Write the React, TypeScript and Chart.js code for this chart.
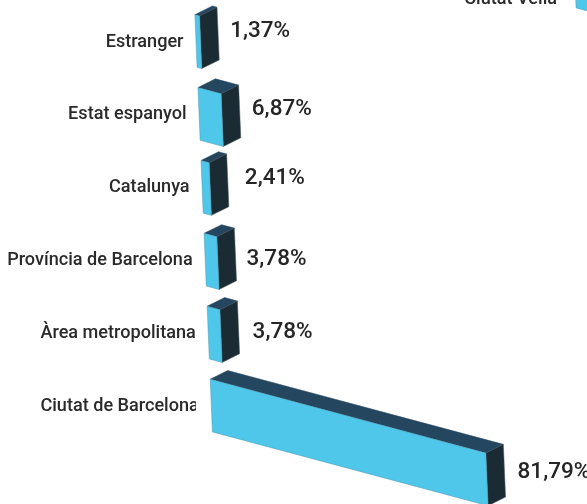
import React, { useEffect, useRef } from "react";
import { Chart, registerables, BarController } from "chart.js";

const categories = ["Estranger", "Estat espanyol", "Catalunya", "Província de Barcelona", "Àrea metropolitana", "Ciutat de Barcelona"];
const shares = [1.37, 6.87, 2.41, 3.78, 3.78, 81.79];
const croppedCategories = ["Ciutat Vella"];
const croppedShares = [9.5];

// layout of the labels, independent of the values
const valueLabelGap = [11, 11, 16, 10, 13, 12];
const valueLabelRise = [10.5, 11, 11, 4, 4, 7.5];

const PX_PER_UNIT = 3.37;
const SLOPE = 0.268; // front edge fall per px of length
const SKEW = 0.042; // sideways drift per px downwards
const DEPTH_X = 17.5;
const DEPTH_Y = -8.7;
const FRONT = "#4fc7ea";
const TOP = "#25465f";
const SIDE = "#1b2b34";
const LABEL_FONT = { family: "Roboto", size: 18.1, weight: "500" };
const VALUE_FONT = "500 22.5px Roboto";

function barGeometry(el: any, firstY: number) {
  const L = el.x - el.base;
  const h = el.height;
  const cx = el.base + (el.y - firstY) * SKEW;
  const tl = [cx - (SKEW * h) / 2, el.y - h / 2];
  const bl = [cx + (SKEW * h) / 2, el.y + h / 2];
  const tr = [tl[0] + L, tl[1] + L * SLOPE];
  const br = [bl[0] + L, bl[1] + L * SLOPE];
  const d = (p: number[]) => [p[0] + DEPTH_X, p[1] + DEPTH_Y];
  return { tl, bl, tr, br, tlB: d(tl), trB: d(tr), brB: d(br) };
}

class Bar3DController extends BarController {
  static id = "bar3d";
  static defaults = BarController.defaults;
  static overrides = BarController.overrides;
  draw() {
    const ctx = this.chart.ctx;
    const els = this._cachedMeta.data as any[];
    const poly = (pts: number[][], fill: string, edge: string) => {
      ctx.beginPath();
      pts.forEach((p, i) => (i ? ctx.lineTo(p[0], p[1]) : ctx.moveTo(p[0], p[1])));
      ctx.closePath();
      ctx.fillStyle = fill;
      ctx.fill();
      ctx.strokeStyle = edge;
      ctx.lineWidth = 0.5;
      ctx.stroke();
    };
    ctx.save();
    els.forEach((el) => {
      const g = barGeometry(el, els[0].y);
      poly([g.tl, g.tr, g.trB, g.tlB], TOP, TOP);
      poly([g.tr, g.br, g.brB, g.trB], SIDE, "#46565f");
      poly([g.tl, g.tr, g.br, g.bl], FRONT, "#4f97ad");
    });
    ctx.restore();
  }
}

Chart.register(...registerables, Bar3DController);

const skewTickLabels = (labelDrop: number) => ({
  id: "skewTickLabels",
  afterLayout(chart: any) {
    const items = chart.scales.y.getLabelItems();
    const first = chart.scales.y.getPixelForTick(0);
    items.forEach((it: any, i: number) => {
      const y = chart.scales.y.getPixelForTick(i);
      it.options.translation = [it.options.translation[0] + (y - first) * SKEW, it.options.translation[1] + labelDrop];
    });
  },
});

const valueLabels = {
  id: "valueLabels",
  afterDatasetsDraw(chart: any) {
    const ctx = chart.ctx;
    const els = chart.getDatasetMeta(0).data;
    ctx.save();
    ctx.font = VALUE_FONT;
    ctx.fillStyle = "#252525";
    ctx.textAlign = "left";
    ctx.textBaseline = "middle";
    els.forEach((el: any, i: number) => {
      const g = barGeometry(el, els[0].y);
      const text = shares[i].toFixed(2).replace(".", ",") + "%";
      ctx.fillText(text, g.brB[0] + valueLabelGap[i], (g.tr[1] + g.br[1]) / 2 - valueLabelRise[i]);
    });
    ctx.restore();
  },
};

function build(canvas: HTMLCanvasElement, labels: string[], data: number[], o: any) {
  return new Chart(canvas, {
    type: "bar3d" as any,
    data: {
      labels,
      datasets: [{ data, clip: false, barPercentage: 0.723, categoryPercentage: 1 } as any],
    },
    options: {
      indexAxis: "y",
      animation: false,
      responsive: false,
      layout: { padding: o.padding },
      plugins: { legend: { display: false }, tooltip: { enabled: false } },
      scales: {
        x: { type: "linear", display: false, min: 0, max: o.xMax },
        y: {
          type: "category",
          offset: true,
          border: { display: false },
          grid: { display: false, drawTicks: false },
          afterFit: (s: any) => {
            s.width = o.axisWidth;
            s.paddingTop = 0;
            s.paddingBottom = 0;
          },
          ticks: { padding: o.tickPadding, color: "#2a2a2a", font: LABEL_FONT as any, autoSkip: false },
        },
      },
    } as any,
    plugins: [skewTickLabels(o.labelDrop), ...(o.values ? [valueLabels] : [])],
  });
}

export default function App() {
  const mainRef = useRef<HTMLCanvasElement>(null);
  const topRef = useRef<HTMLCanvasElement>(null);
  useEffect(() => {
    const a = build(mainRef.current!, categories, shares, {
      padding: { top: 4.55, bottom: 62, left: 0, right: 54 },
      xMax: 337 / PX_PER_UNIT,
      axisWidth: 196,
      tickPadding: 12.5,
      labelDrop: 1,
      values: true,
    });
    const b = build(topRef.current!, croppedCategories, croppedShares, {
      padding: { top: 5, bottom: 2, left: 0, right: 0 },
      xMax: 625 / PX_PER_UNIT,
      axisWidth: 575,
      tickPadding: 18,
      labelDrop: 17.5,
      values: false,
    });
    return () => {
      a.destroy();
      b.destroy();
    };
  }, []);
  return (
    <div style={{ position: "fixed", left: 0, top: 0, width: 587, height: 504, overflow: "hidden", background: "#fff" }}>
      <canvas ref={mainRef} width={587} height={504} style={{ position: "absolute", left: 0, top: 0, display: "block" }} />
      <canvas ref={topRef} width={1200} height={80} style={{ position: "absolute", left: 0, top: -60, display: "block" }} />
    </div>
  );
}
